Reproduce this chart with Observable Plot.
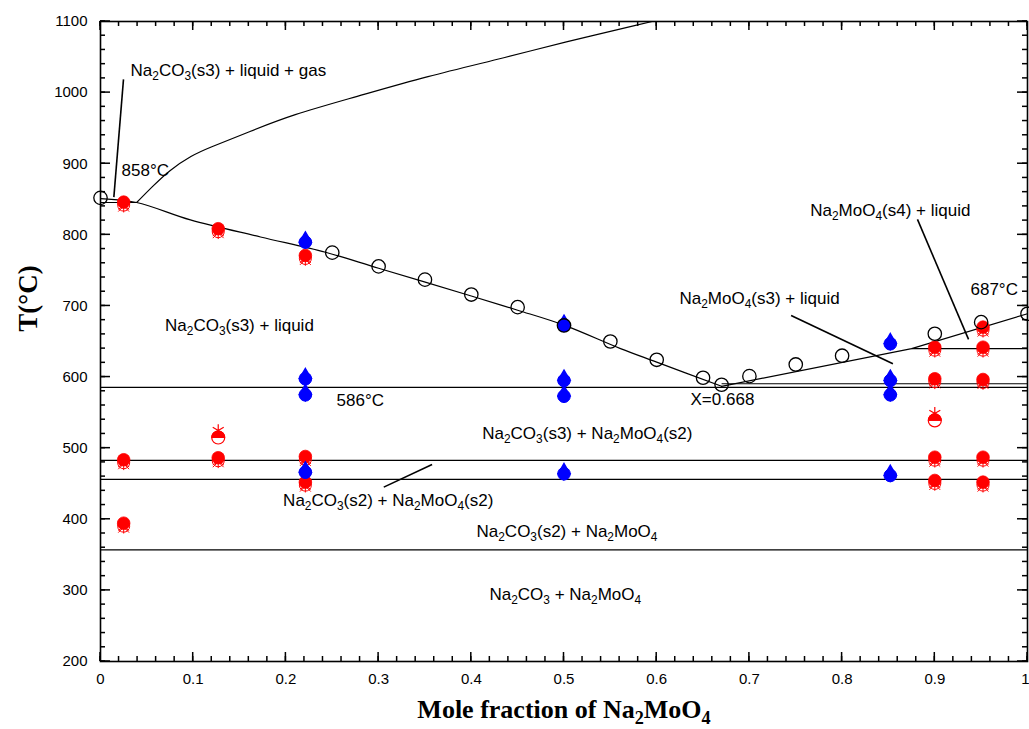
<!DOCTYPE html>
<html><head><meta charset="utf-8">
<script src="https://cdn.jsdelivr.net/npm/d3@7"></script>
<script src="https://cdn.jsdelivr.net/npm/@observablehq/plot@0.6"></script>
<style>body{margin:0;background:#fff;}</style>
</head><body><div id="chart"></div>
<script>
// ---- data ----
const circleX = [0, 0.25, 0.3, 0.35, 0.4, 0.45, 0.5, 0.55, 0.6, 0.65, 0.67, 0.7, 0.75, 0.8, 0.9, 0.95, 1.0];
const circleT = [852, 775, 755.6, 737, 716, 698.3, 672.6, 650, 624.3, 599, 589.2, 601.3, 617.7, 630, 660.9, 677.2, 689];

const redX = [0.025, 0.025, 0.025, 0.127, 0.127, 0.221, 0.221, 0.221, 0.9, 0.9, 0.9, 0.9, 0.952, 0.952, 0.952, 0.952, 0.952];
const redT = [846, 483.7, 394.5, 808.6, 486.5, 771, 488.3, 452.2, 642, 597.6, 487.3, 454.6, 670.2, 642, 596.6, 487.3, 452.2];
const halfX = [0.127, 0.9];
const halfT = [515, 539];

const blueX = [0.221, 0.221, 0.221, 0.221, 0.5, 0.5, 0.5, 0.5, 0.852, 0.852, 0.852, 0.852];
const blueT = [789.7, 597.6, 575, 466.2, 672.6, 595.2, 573.1, 464, 646.8, 595.2, 575, 461.6];

const liqLeft = [[0, 851], [0.039, 845.5], [0.097, 821], [0.1726, 797], [0.2427, 775.5], [0.3, 753], [0.4, 714], [0.45, 694], [0.5, 673], [0.561, 640], [0.6, 621], [0.670, 587]];
const liqRight = [[0.670, 587], [0.875, 640], [1.0, 689]];
const gasCurve = [[0.039, 845.5], [0.0557, 867.5], [0.0743, 891], [0.0989, 912], [0.1153, 921.6], [0.1606, 945], [0.206, 968.6], [0.2763, 994.3], [0.3505, 1022.5], [0.4413, 1050.6], [0.4948, 1069.4], [0.595, 1100]];

const hSegX1 = [0, 0, 0.67, 0, 0, 0, 0.875];
const hSegX2 = [0.039, 1, 1, 1, 1, 1, 1];
const hSegT  = [845.5, 585.5, 590.6, 482.7, 456, 357, 640];

const pointers = [[0.0248, 1018.6, 0.0144, 853], [0.745, 686.6, 0.8548, 618.7], [0.8813, 821.7, 0.9364, 652.9], [0.3056, 445.2, 0.3577, 477.1]];

const labelTexts = ["Na_2CO_3(s3) + liquid + gas", "858°C", "Na_2MoO_4(s4) + liquid", "Na_2MoO_4(s3) + liquid", "687°C",
  "Na_2CO_3(s3) + liquid", "586°C", "X=0.668", "Na_2CO_3(s3) + Na_2MoO_4(s2)", "Na_2CO_3(s2) + Na_2MoO_4(s2)",
  "Na_2CO_3(s2) + Na_2MoO_4", "Na_2CO_3 + Na_2MoO_4"];
const labelX = [0.0324, 0.0227, 0.7656, 0.6246, 0.9385, 0.0696, 0.2546, 0.6365, 0.4118, 0.197, 0.4056, 0.4196];
const labelT = [1031, 889.8, 834.2, 710.5, 722.7, 672.5, 567, 568, 521, 426.4, 382.8, 294.2];

const xTickValues = [0, 0.1, 0.2, 0.3, 0.4, 0.5, 0.6, 0.7, 0.8, 0.9, 1];
const xTickLabels = ["0", "0.1", "0.2", "0.3", "0.4", "0.5", "0.6", "0.7", "0.8", "0.9", "1"];
const xMinor = d3.range(0, 51).map(i => i / 50);
const yTickValues = [200, 300, 400, 500, 600, 700, 800, 900, 1000, 1100];
const yTickLabels = ["200", "300", "400", "500", "600", "700", "800", "900", "1000", "1100"];
const yMinor = d3.range(200, 1101, 20);

const xTitle = "Mole fraction of Na_2MoO_4";
const yTitle = "T(°C)";

// ---- layout ----
const W = 1029, H = 729, ML = 100, MR = 2, MT = 21, MB = 68;

// ---- helpers ----
const halfTop = {draw(ctx, size) { const r = Math.sqrt(size / Math.PI); ctx.moveTo(-r, 0); ctx.arc(0, 0, r, Math.PI, 2 * Math.PI); ctx.closePath(); }};
const RED = "#ff0000", BLUE = "#0000ff";
const gx = (arr) => (d, i) => arr[i];
const SANS = "'Liberation Sans', Arial, sans-serif";
const SERIF = "'Liberation Serif', 'Times New Roman', serif";

const chart = Plot.plot({
  width: W, height: H,
  marginLeft: ML, marginRight: MR, marginTop: MT, marginBottom: MB,
  x: {domain: [0, 1]},
  y: {domain: [200, 1100]},
  style: {fontFamily: SANS, fontSize: "15px", color: "black", background: "white", overflow: "visible"},
  marks: [
    // tick labels
    Plot.axisY(yTickValues, {anchor: "left", tickSize: 0, tickPadding: 13, label: null, fontSize: 15, tickFormat: d => yTickLabels[yTickValues.indexOf(d)]}),
    Plot.axisX(xTickValues.slice(0, -1), {anchor: "bottom", tickSize: 0, tickPadding: 12, label: null, fontSize: 15, tickFormat: d => xTickLabels[xTickValues.indexOf(d)]}),
    Plot.axisX(xTickValues.slice(-1), {anchor: "bottom", tickSize: 0, tickPadding: 12, label: null, fontSize: 15, textAnchor: "end", dx: 2, tickFormat: d => xTickLabels[xTickValues.indexOf(d)]}),
    // lines
    Plot.link(hSegT, {x1: gx(hSegX1), x2: gx(hSegX2), y1: d => d, y2: d => d, stroke: "black", strokeWidth: 1.2}),
    Plot.line(liqLeft, {x: d => d[0], y: d => d[1], stroke: "black", strokeWidth: 1.2, curve: "catmull-rom"}),
    Plot.line(liqRight, {x: d => d[0], y: d => d[1], stroke: "black", strokeWidth: 1.2}),
    Plot.line(gasCurve, {x: d => d[0], y: d => d[1], stroke: "black", strokeWidth: 1.2, curve: "basis"}),
    Plot.link(pointers, {x1: d => d[0], y1: d => d[1], x2: d => d[2], y2: d => d[3], stroke: "black", strokeWidth: 1.6}),
    // red markers
    Plot.dot(redT, {x: gx(redX), y: d => d, r: 6, symbol: "circle", stroke: RED, fill: "none", strokeWidth: 1, dy: 3}),
    Plot.dot(redT, {x: gx(redX), y: d => d, r: 6, symbol: "asterisk", stroke: RED, strokeWidth: 1, dy: 4}),
    Plot.dot(redT, {x: gx(redX), y: d => d, r: 5, symbol: "times", stroke: RED, strokeWidth: 1, dy: 4}),
    Plot.dot(redT, {x: gx(redX), y: d => d, r: 6.3, fill: RED, stroke: RED, strokeWidth: 0.8}),
    Plot.dot(halfT, {x: gx(halfX), y: d => d, r: 6.5, fill: "white", stroke: RED, strokeWidth: 1.2}),
    Plot.dot(halfT, {x: gx(halfX), y: d => d, r: 6.5, symbol: halfTop, fill: RED, stroke: RED, strokeWidth: 1}),
    Plot.dot(halfT, {x: gx(halfX), y: d => d, r: 6, symbol: "asterisk", stroke: RED, strokeWidth: 1.2, dy: -7}),
    // blue markers
    Plot.dot(blueT, {x: gx(blueX), y: d => d, r: 6.3, fill: BLUE, stroke: BLUE, strokeWidth: 1}),
    Plot.dot(blueT, {x: gx(blueX), y: d => d, r: 6, symbol: "diamond2", fill: BLUE, stroke: BLUE, strokeWidth: 0.8}),
    Plot.dot(blueT, {x: gx(blueX), y: d => d, r: 4, symbol: "triangle", fill: BLUE, stroke: BLUE, dy: -4}),
    // liquidus circles
    Plot.dot(circleT, {x: gx(circleX), y: d => d, r: 6.7, fill: "none", stroke: "black", strokeWidth: 1.3}),
    // annotations
    Plot.text(labelTexts, {x: gx(labelX), y: gx(labelT), text: d => d, textAnchor: "start", lineAnchor: "middle", fontSize: 17, fontFamily: SANS, fill: "black"}),
    // axis titles
    Plot.text([xTitle], {frameAnchor: "bottom", dy: 48, text: d => d, textAnchor: "middle", lineAnchor: "middle", fontSize: 26, fontWeight: "bold", fontFamily: SERIF, fill: "black"}),
    Plot.text([yTitle], {frameAnchor: "left", dx: -72, dy: -43, rotate: -90, text: d => d, textAnchor: "middle", lineAnchor: "middle", fontSize: 27, fontWeight: "bold", fontFamily: SERIF, fill: "black"}),
    Plot.frame({stroke: "black", strokeWidth: 1.6})
  ]
});
document.getElementById("chart").appendChild(chart);

// inward ticks on all four sides, positioned with the plot's own scales
(function drawTicks() {
  const sx = chart.scale("x"), sy = chart.scale("y");
  const fLeft = ML, fRight = W - MR, fTop = MT, fBottom = H - MB;
  const g = d3.select(chart).append("g").attr("stroke", "#000").attr("stroke-width", 1.5);
  const addY = (vals, len) => vals.forEach(v => {
    const y = sy.apply(v);
    g.append("line").attr("x1", fLeft).attr("x2", fLeft + len).attr("y1", y).attr("y2", y);
    g.append("line").attr("x1", fRight).attr("x2", fRight - len).attr("y1", y).attr("y2", y);
  });
  const addX = (vals, len) => vals.forEach(v => {
    const x = sx.apply(v);
    g.append("line").attr("x1", x).attr("x2", x).attr("y1", fBottom).attr("y2", fBottom - len);
    g.append("line").attr("x1", x).attr("x2", x).attr("y1", fTop).attr("y2", fTop + len);
  });
  addY(yMinor, 5); addY(yTickValues, 10);
  addX(xMinor, 5); addX(xTickValues, 9);
})();

// subscripts: "_2" -> lowered smaller digit
(function subscripts() {
  const NS = "http://www.w3.org/2000/svg";
  chart.querySelectorAll("text").forEach(t => {
    const s = t.textContent;
    if (!s.includes("_")) return;
    const fs = parseFloat(getComputedStyle(t).fontSize) || 17;
    const shift = fs * 0.25;
    t.textContent = "";
    let lowered = false;
    s.split(/(_\d)/).forEach(p => {
      if (!p) return;
      const ts = document.createElementNS(NS, "tspan");
      if (p.startsWith("_")) {
        ts.textContent = p.slice(1);
        ts.setAttribute("font-size", (fs * 0.7).toFixed(1));
        ts.setAttribute("dy", lowered ? 0 : shift);
        lowered = true;
      } else {
        ts.textContent = p;
        ts.setAttribute("dy", lowered ? -shift : 0);
        lowered = false;
      }
      t.appendChild(ts);
    });
  });
})();
</script>
</body></html>
